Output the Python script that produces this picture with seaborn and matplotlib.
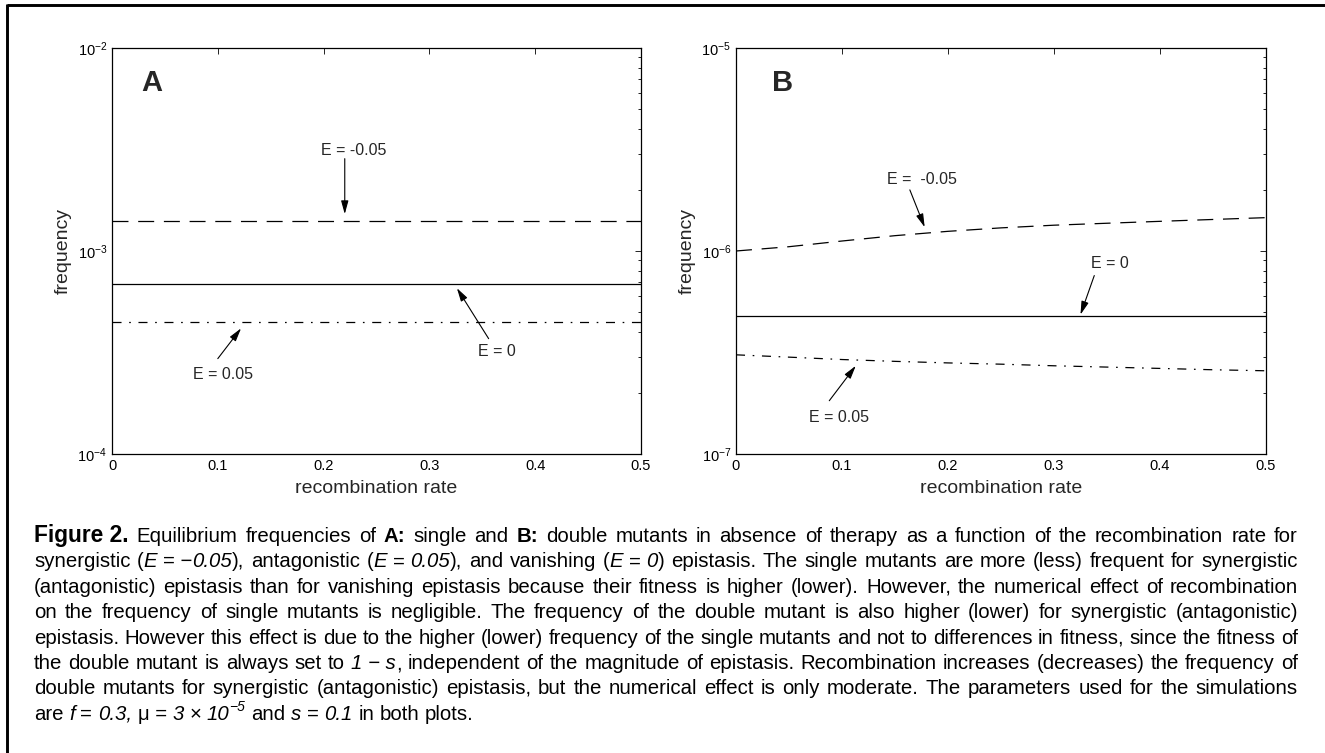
import re
import numpy as np
import pandas as pd
import matplotlib
matplotlib.use("Agg")
import matplotlib.pyplot as plt
import seaborn as sns
from matplotlib.font_manager import FontProperties
from matplotlib.lines import Line2D
from matplotlib.ticker import LogLocator, NullFormatter, FixedLocator, FixedFormatter

# ---------------- data ----------------
recomb_rate = [0.0, 0.05, 0.10, 0.15, 0.20, 0.25, 0.30, 0.35, 0.40, 0.45, 0.50]

# Panel A: single mutants
single_E_neg = [1.41e-3, 1.41e-3, 1.41e-3, 1.41e-3, 1.41e-3, 1.41e-3, 1.41e-3, 1.41e-3, 1.41e-3, 1.41e-3, 1.41e-3]
single_E_zero = [6.9e-4, 6.9e-4, 6.9e-4, 6.9e-4, 6.9e-4, 6.9e-4, 6.9e-4, 6.9e-4, 6.9e-4, 6.9e-4, 6.9e-4]
single_E_pos = [4.46e-4, 4.46e-4, 4.46e-4, 4.46e-4, 4.46e-4, 4.46e-4, 4.46e-4, 4.46e-4, 4.46e-4, 4.46e-4, 4.46e-4]

# Panel B: double mutants
double_E_neg = [1.00e-6, 1.05e-6, 1.12e-6, 1.19e-6, 1.25e-6, 1.30e-6, 1.34e-6, 1.37e-6, 1.40e-6, 1.43e-6, 1.46e-6]
double_E_zero = [4.77e-7, 4.77e-7, 4.77e-7, 4.77e-7, 4.77e-7, 4.77e-7, 4.77e-7, 4.77e-7, 4.77e-7, 4.77e-7, 4.77e-7]
double_E_pos = [3.08e-7, 3.00e-7, 2.92e-7, 2.86e-7, 2.81e-7, 2.77e-7, 2.72e-7, 2.68e-7, 2.64e-7, 2.60e-7, 2.57e-7]

x_ticks = [0.0, 0.1, 0.2, 0.3, 0.4, 0.5]
x_tick_labels = ["0", "0.1", "0.2", "0.3", "0.4", "0.5"]
ylim_A = (1e-4, 1e-2)
ylim_B = (1e-7, 1e-5)
x_label = "recombination rate"
y_label = "frequency"
panel_labels = ["A", "B"]
labels_A = ["E = -0.05", "E = 0", "E = 0.05"]
labels_B = ["E =  -0.05", "E = 0", "E = 0.05"]

caption_lines = [
    "!!Figure~2.!! Equilibrium frequencies of **A:** single and **B:** double mutants in absence of therapy as a function of the recombination rate for",
    "synergistic (*E*~=~\u2212*0.05*), antagonistic (*E*~=~*0.05*), and vanishing (*E*~=~*0*) epistasis. The single mutants are more (less) frequent for synergistic",
    "(antagonistic) epistasis than for vanishing epistasis because their fitness is higher (lower). However, the numerical effect of recombination",
    "on the frequency of single mutants is negligible. The frequency of the double mutant is also higher (lower) for synergistic (antagonistic)",
    "epistasis. However this effect is due to the higher (lower) frequency of the single mutants and not to differences in fitness, since the fitness of",
    "the double mutant is always set to *1~\u2212~s*, independent of the magnitude of epistasis. Recombination increases (decreases) the frequency of",
    "double mutants for synergistic (antagonistic) epistasis, but the numerical effect is only moderate. The parameters used for the simulations",
    "are *f*~=~*0.3,* \u03bc~=~*3*~\u00d7~*10*^{\u22125} and *s*~=~*0.1* in both plots.",
]

# ---------------- style ----------------
sns.set_style("white")
plt.rcParams["font.family"] = ["Liberation Sans", "DejaVu Sans"]
plt.rcParams["mathtext.fontset"] = "custom"
plt.rcParams["mathtext.rm"] = "Liberation Sans"
plt.rcParams["mathtext.it"] = "Liberation Sans:italic"
plt.rcParams["mathtext.bf"] = "Liberation Sans:bold"
plt.rcParams["lines.scale_dashes"] = False

W, H = 1325, 753
fig = plt.figure(figsize=(W / 100, H / 100), dpi=100)
fig.patch.set_facecolor("white")

axA = fig.add_axes([112 / W, 1 - 454 / H, (641 - 112) / W, (454 - 48) / H])
axB = fig.add_axes([736 / W, 1 - 454 / H, (1266 - 736) / W, (454 - 48) / H])

line_styles = [(0, (11.5, 7.0)), "-", (0, (6.5, 5.5, 1.2, 5.5))]


def draw_panel(ax, series, ylim, letter, letter_xy):
    df = pd.DataFrame({"x": recomb_rate})
    for i, (vals, ls) in enumerate(zip(series, line_styles)):
        df[f"y{i}"] = vals
        sns.lineplot(data=df, x="x", y=f"y{i}", ax=ax, color="black",
                     linewidth=0.9, linestyle=ls, errorbar=None)
    ax.set_yscale("log")
    ax.set_xlim(0, 0.5)
    ax.set_ylim(*ylim)
    ax.xaxis.set_major_locator(FixedLocator(x_ticks))
    ax.xaxis.set_major_formatter(FixedFormatter(x_tick_labels))
    ax.yaxis.set_major_locator(LogLocator(base=10, numticks=10))
    ax.yaxis.set_minor_locator(LogLocator(base=10, subs=np.arange(2, 10), numticks=20))
    ax.yaxis.set_minor_formatter(NullFormatter())
    ax.tick_params(which="both", direction="in", top=True, right=True,
                   width=0.6, color="black", labelcolor="black")
    ax.tick_params(which="major", length=4.5, labelsize=10.5, pad=3.5)
    ax.tick_params(which="minor", length=2.5)
    for sp in ax.spines.values():
        sp.set_color("black")
        sp.set_linewidth(0.9)
    ax.set_xlabel(x_label, fontsize=14, labelpad=5)
    ax.set_ylabel(y_label, fontsize=14, labelpad=4)
    ax.text(letter_xy[0], letter_xy[1], letter, fontsize=21, fontweight="bold",
            ha="center", va="center")
    ax.grid(False)


def annotate(ax, label, text_xy, tail, head):
    ax.text(text_xy[0], text_xy[1], label, ha="center", va="center", fontsize=11.5)
    ax.annotate("", xy=head, xytext=tail,
                arrowprops=dict(arrowstyle="-|>,head_length=0.8,head_width=0.22",
                                color="black", lw=0.8, shrinkA=0, shrinkB=0,
                                mutation_scale=10))


draw_panel(axA, [single_E_neg, single_E_zero, single_E_pos], ylim_A, panel_labels[0], (0.038, 6.7e-3))
draw_panel(axB, [double_E_neg, double_E_zero, double_E_pos], ylim_B, panel_labels[1], (0.044, 6.7e-6))

# annotation layout (text position, arrow tail, arrow head)
annotate(axA, labels_A[0], (0.228, 3.13e-3), (0.220, 2.85e-3), (0.220, 1.52e-3))
annotate(axA, labels_A[1], (0.364, 3.2e-4), (0.356, 3.7e-4), (0.326, 6.56e-4))
annotate(axA, labels_A[2], (0.105, 2.46e-4), (0.100, 2.95e-4), (0.122, 4.16e-4))
annotate(axB, labels_B[0], (0.175, 2.25e-6), (0.164, 2.0e-6), (0.178, 1.31e-6))
annotate(axB, labels_B[1], (0.353, 8.67e-7), (0.338, 7.57e-7), (0.325, 4.86e-7))
annotate(axB, labels_B[2], (0.097, 1.51e-7), (0.088, 1.83e-7), (0.113, 2.72e-7))

# frame lines (top and left)
fig.add_artist(Line2D([6.5 / W, 1.0], [1 - 4.8 / H, 1 - 4.8 / H], transform=fig.transFigure,
                      color="black", lw=2.1, solid_capstyle="butt"))
fig.add_artist(Line2D([6.7 / W, 6.7 / W], [0.0, 1 - 3.8 / H], transform=fig.transFigure,
                      color="black", lw=2.1, solid_capstyle="butt"))

# ---------------- justified caption ----------------
renderer = fig.canvas.get_renderer()
CAP_FAMILY = ["Liberation Sans", "DejaVu Sans"]
TOKEN_RE = re.compile(r"!!(.+?)!!|\*\*(.+?)\*\*|\*(.+?)\*|\^\{(.+?)\}|([^*^!]+)")
SUP_SCALE = 0.68
HEAD_SCALE = 1.12

# run = (text, weight, style, size_scale, raised)
def parse(tok):
    runs = []
    for m in TOKEN_RE.finditer(tok):
        if m.group(1) is not None:
            runs.append((m.group(1).replace("~", " "), "heavy", "normal", HEAD_SCALE, False))
        elif m.group(2) is not None:
            runs.append((m.group(2).replace("~", " "), "bold", "normal", 1.0, False))
        elif m.group(3) is not None:
            runs.append((m.group(3).replace("~", " "), "normal", "italic", 1.0, False))
        elif m.group(4) is not None:
            runs.append((m.group(4), "normal", "italic", SUP_SCALE, True))
        else:
            runs.append((m.group(5).replace("~", " "), "normal", "normal", 1.0, False))
    return runs


def measure(s, weight, style, scale, fs):
    fp = FontProperties(family=CAP_FAMILY, size=fs * scale, weight=weight, style=style)
    a = renderer.get_text_width_height_descent("x" + s + "x", fp, ismath=False)[0]
    b = renderer.get_text_width_height_descent("xx", fp, ismath=False)[0]
    return a - b


cap_left, cap_right = 34.0, 1298.0
avail = cap_right - cap_left
parsed = [[parse(t) for t in line.split(" ")] for line in caption_lines]


def natural_max(fs):
    sp = measure(" ", "normal", "normal", 1.0, fs)
    need = 0.0
    for toks in parsed[:-1]:
        words = sum(measure(r[0], r[1], r[2], r[3], fs) for tok in toks for r in tok)
        need = max(need, words + 1.0 * sp * (len(toks) - 1))
    return need


fs0 = 13.4
cap_fs = min(fs0 * avail / natural_max(fs0), 16.5)

base0, lead = 542.0, 25.4
space_w = measure(" ", "normal", "normal", 1.0, cap_fs)
for li, toks in enumerate(parsed):
    tok_w = [sum(measure(r[0], r[1], r[2], r[3], cap_fs) for r in tok) for tok in toks]
    if li < len(parsed) - 1:
        gap = (avail - sum(tok_w)) / (len(toks) - 1)
    else:
        gap = space_w
    x = cap_left
    ybase = base0 + li * lead
    for tok, tw in zip(toks, tok_w):
        xr = x
        for s, wgt, sty, scale, raised in tok:
            rw = measure(s, wgt, sty, scale, cap_fs)
            core = s.strip(" ")
            lead_sp = len(s) - len(s.lstrip(" "))
            if core:
                yy = ybase - (0.42 * cap_fs * 100 / 72 if raised else 0.0)
                fig.text((xr + lead_sp * space_w) / W, 1 - yy / H, core,
                         fontsize=cap_fs * scale,
                         fontweight=wgt, fontstyle=sty, family=CAP_FAMILY,
                         ha="left", va="baseline", color="black")
            xr += rw
        x += tw + gap

fig.savefig("out.png", dpi=100, facecolor="white")
